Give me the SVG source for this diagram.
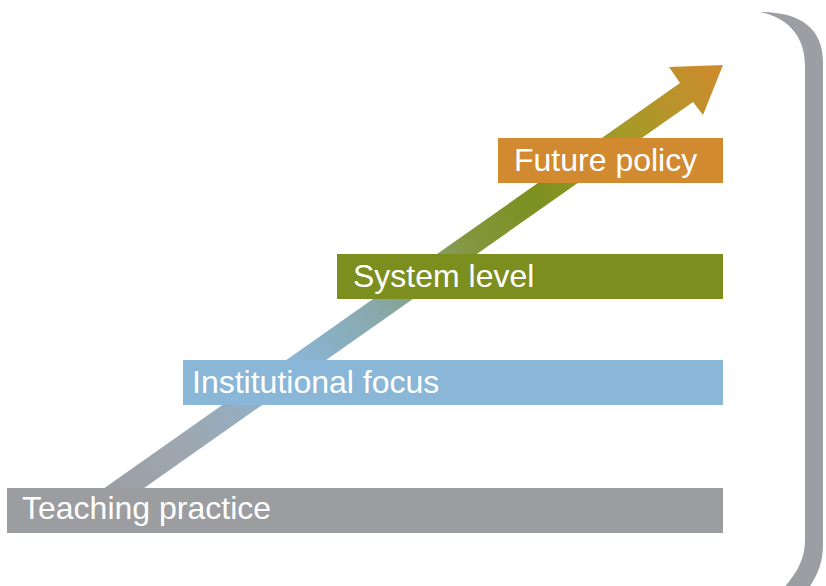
<svg xmlns="http://www.w3.org/2000/svg" width="826" height="586" viewBox="0 0 826 586">
  <defs>
    <linearGradient id="arrowGrad" gradientUnits="userSpaceOnUse" x1="93" y1="510" x2="723" y2="65">
      <stop offset="0" stop-color="#9a9ca1"/>
      <stop offset="0.15" stop-color="#9ea7b0"/>
      <stop offset="0.33" stop-color="#8ab5d4"/>
      <stop offset="0.45" stop-color="#88a8ac"/>
      <stop offset="0.60" stop-color="#84963e"/>
      <stop offset="0.70" stop-color="#7c9020"/>
      <stop offset="0.85" stop-color="#a69a28"/>
      <stop offset="1" stop-color="#d08a2e"/>
    </linearGradient>
    <style>
      .label { font-family: "Liberation Sans", Arial, sans-serif; font-size: 32px; fill: #ffffff; }
    </style>
  </defs>
  <rect width="826" height="586" fill="#ffffff"/>

  <g id="bracket">
    <path d="M760,12 C800,12 823,28 823,62 L823,545 C823,565 816,578 806,592 L780,592 C796,575 805,560 805,540 L805,66 C805,38 790,18 760,12 Z" fill="#9d9ea3"/>
  </g>

  <g id="connectors">
    <polygon id="arrow" points="86,501 680,83 669,67 723,65 703,115 693,102 100,519" fill="url(#arrowGrad)"/>
  </g>

  <g id="node-teaching">
    <rect x="7" y="488" width="716" height="45" fill="#9c9da1"/>
    <text class="label" x="22" y="519">Teaching practice</text>
  </g>
  <g id="node-institutional">
    <rect x="183" y="360" width="540" height="45" fill="#8ab7d7"/>
    <text class="label" x="192" y="393">Institutional focus</text>
  </g>
  <g id="node-system">
    <rect x="337" y="254" width="386" height="45" fill="#7b8e1e"/>
    <text class="label" x="353" y="287">System level</text>
  </g>
  <g id="node-future">
    <rect x="498" y="138" width="225" height="45" fill="#d18a30"/>
    <text class="label" x="514" y="171">Future policy</text>
  </g>
</svg>
